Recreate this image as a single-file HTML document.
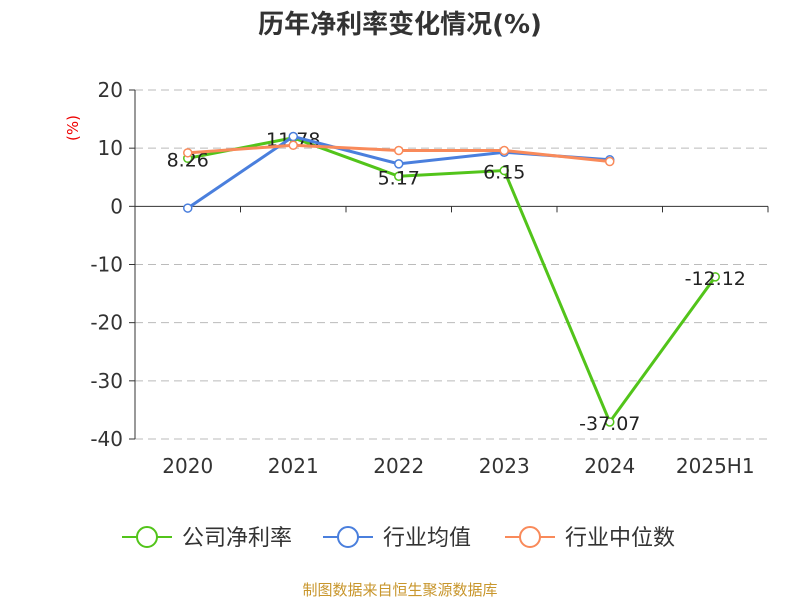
<!DOCTYPE html>
<html><head><meta charset="utf-8"><style>
body{margin:0;background:#fff;font-family:"DejaVu Sans","Noto Sans CJK SC",sans-serif;}
</style></head><body>
<svg width="800" height="600" xmlns="http://www.w3.org/2000/svg" font-family="DejaVu Sans, Noto Sans CJK SC, sans-serif">
<text x="400" y="33" text-anchor="middle" font-size="26" font-weight="bold" fill="#333">历年净利率变化情况(%)</text>
<text x="78" y="128" text-anchor="middle" font-size="15" fill="#e00" transform="rotate(-90 78 128)">(%)</text>
<g id="grid"></g><g id="axes"></g><g id="series"></g>
<g id="legend"></g>
<text x="400" y="595" text-anchor="middle" font-size="15" fill="#c8962c">制图数据来自恒生聚源数据库</text>
</svg>
<script>
const categories=["2020","2021","2022","2023","2024","2025H1"];
const companyValues=[8.26,11.78,5.17,6.15,-37.07,-12.12];
const industryAvg=[-0.3,12.0,7.3,9.3,8.0,null];
const industryMedian=[9.2,10.5,9.6,9.6,7.7,null];
const yTicks=[20,10,0,-10,-20,-30,-40];
const NS="http://www.w3.org/2000/svg";
const L=135,R=768,T=90,B=439,yMax=20,yMin=-40;
const bw=(R-L)/categories.length;
const xs=i=>L+bw*(i+0.5);
const ys=v=>T+(yMax-v)/(yMax-yMin)*(B-T);
function mk(tag,a,p){const e=document.createElementNS(NS,tag);for(const k in a)e.setAttribute(k,a[k]);p.appendChild(e);return e;}
const grid=document.getElementById('grid'),axes=document.getElementById('axes'),ser=document.getElementById('series'),leg=document.getElementById('legend');
yTicks.forEach(t=>{const y=ys(t);
 if(t!==0){const g=mk('line',{x1:L,x2:R,y1:y,y2:y,stroke:'#bbb','stroke-dasharray':'8,5'},grid);}
 const tk=mk('line',{x1:L-6,x2:L,y1:y,y2:y,stroke:'#333'},axes);
 const tx=mk('text',{x:L-12,y:y+7,'text-anchor':'end','font-size':20,fill:'#333'},axes);tx.textContent=t;});
const ya=mk('line',{x1:L,x2:L,y1:T,y2:B,stroke:'#333'},axes);
const xa=mk('line',{x1:L,x2:R,y1:ys(0),y2:ys(0),stroke:'#333'},axes);
for(let i=0;i<=categories.length;i++){const x=L+bw*i;const t=mk('line',{x1:x,x2:x,y1:ys(0),y2:ys(0)+6,stroke:'#333'},axes);}
categories.forEach((c,i)=>{const t=mk('text',{x:xs(i),y:473,'text-anchor':'middle','font-size':20,fill:'#333'},axes);t.textContent=c;});
function series(vals,color,name,labels){
 const pts=vals.map((v,i)=>v==null?null:[xs(i),ys(v)]).filter(p=>p);
 const pl=mk('polyline',{points:pts.map(p=>p.join(',')).join(' '),fill:'none',stroke:color,'stroke-width':3},ser);
 
 vals.forEach((v,i)=>{if(v==null)return;const c=mk('circle',{cx:xs(i),cy:ys(v),r:4,fill:'#fff',stroke:color,'stroke-width':1.5},ser);
  
  if(labels){const t=mk('text',{x:xs(i),y:ys(v)+8,'text-anchor':'middle','font-size':19,fill:'#222'},ser);t.textContent=v.toFixed(2);}});
}
series(companyValues,'#52c41a','company',true);
series(industryAvg,'#4a7fdd','industry-avg',false);
series(industryMedian,'#f98a5a','industry-median',false);
[['公司净利率','#52c41a',122],['行业均值','#4a7fdd',323],['行业中位数','#f98a5a',505]].forEach(([n,c,x])=>{
 const g=mk('g',{},leg);
 mk('line',{x1:x,x2:x+50,y1:537,y2:537,stroke:c,'stroke-width':2},g);
 mk('circle',{cx:x+25,cy:537,r:10,fill:'#fff',stroke:c,'stroke-width':2},g);
 const t=mk('text',{x:x+60,y:545,'font-size':22,fill:'#333'},g);t.textContent=n;});
</script>
</body></html>
